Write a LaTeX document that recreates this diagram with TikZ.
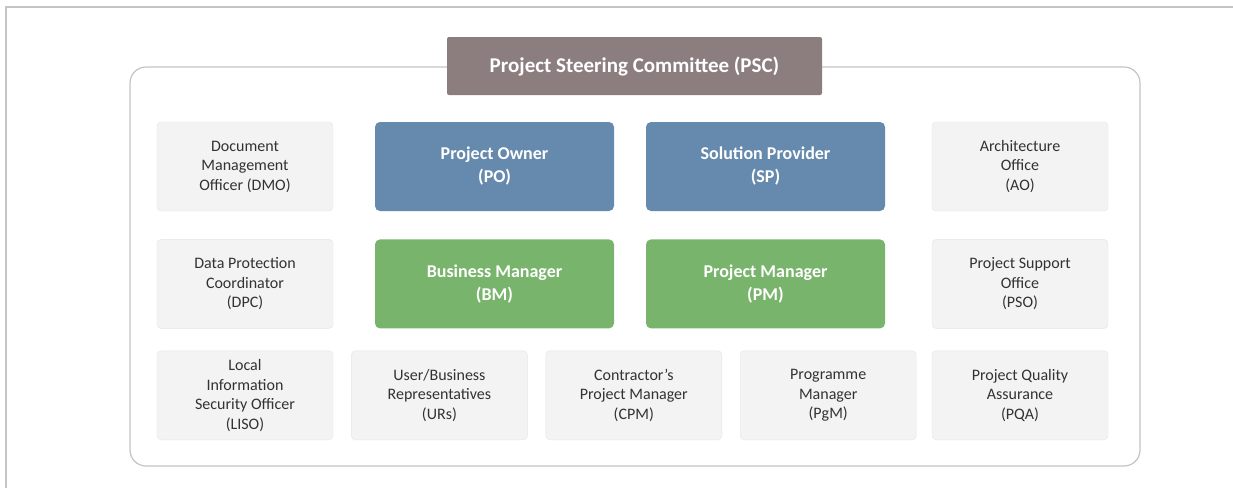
\documentclass[tikz,border=0pt]{standalone}
\usepackage{fontspec}
\setmainfont{Carlito}
\usetikzlibrary{positioning}

\definecolor{psccol}{RGB}{140,125,127}
\definecolor{ownercol}{RGB}{102,138,174}
\definecolor{mgrcol}{RGB}{121,180,108}
\definecolor{rolefill}{RGB}{243,243,243}
\definecolor{roleline}{RGB}{230,230,230}
\definecolor{roletext}{RGB}{50,50,50}
\definecolor{framecol}{RGB}{196,196,196}

\tikzset{
  role/.style={draw=roleline, fill=rolefill, rounded corners=4pt, text=roletext,
    minimum width=176pt, minimum height=89pt, inner sep=0pt, align=center,
    font=\fontsize{16}{19.5}\selectfont},
  lead/.style={rounded corners=5pt, text=white, minimum width=239pt,
    minimum height=89pt, inner sep=0pt, align=center,
    font=\fontsize{18}{23}\selectfont\bfseries},
  board/.style={fill=psccol, rounded corners=2pt, text=white, minimum width=375pt,
    minimum height=58pt, inner sep=0pt, font=\fontsize{21}{24}\selectfont\bfseries}
}

\begin{document}
\begin{tikzpicture}[x=1pt, y=1pt]
		\useasboundingbox (0,0) rectangle (1233,-488) ;
		% page frame
		\draw[framecol, line width=2pt] (6,-488) -- (6,-7) -- (1233,-7) ;
		% committee frame
		\draw[framecol, line width=1.2pt, fill=white, rounded corners=16pt] (130,-67) rectangle (1140,-466) ;
		\node[board] (PSC) at (634.5,-66) {Project Steering Committee (PSC)} ;
		% Center
		\node[lead, fill=ownercol] (PO) at (494.5,-166.5) {Project Owner\\(PO)} ;
		\node[lead, fill=ownercol] (SP) at (765.5,-166.5) {Solution Provider\\(SP)} ;
		\node[lead, fill=mgrcol, below=28pt of PO] (BM) {Business Manager\\(BM)} ;
		\node[lead, fill=mgrcol, below=28pt of SP] (PM) {Project Manager\\(PM)} ;
		% Left column
		\node[role] (DMO) at (245,-166.5) {Document\\Management\\Officer (DMO)} ;
		\node[role, below=28pt of DMO] (DPC) {Data Protection\\Coordinator\\(DPC)} ;
		\node[role, below=22pt of DPC] (LISO) {Local\\Information\\Security Officer\\(LISO)} ;
		% Right column
		\node[role] (AO) at (1020,-166.5) {Architecture\\Office\\(AO)} ;
		\node[role, below=28pt of AO] (PSO) {Project Support\\Office\\(PSO)} ;
		\node[role, below=22pt of PSO] (PQA) {Project Quality\\Assurance\\(PQA)} ;
		% Bottom row
		\node[role, right=18pt of LISO] (URs) {User/Business\\Representatives\\(URs)} ;
		\node[role, right=18pt of URs] (CPM) {Contractor's\\Project Manager\\(CPM)} ;
		\node[role, right=18pt of CPM] (PgM) {Programme\\Manager\\(PgM)} ;
	\end{tikzpicture}
\end{document}
